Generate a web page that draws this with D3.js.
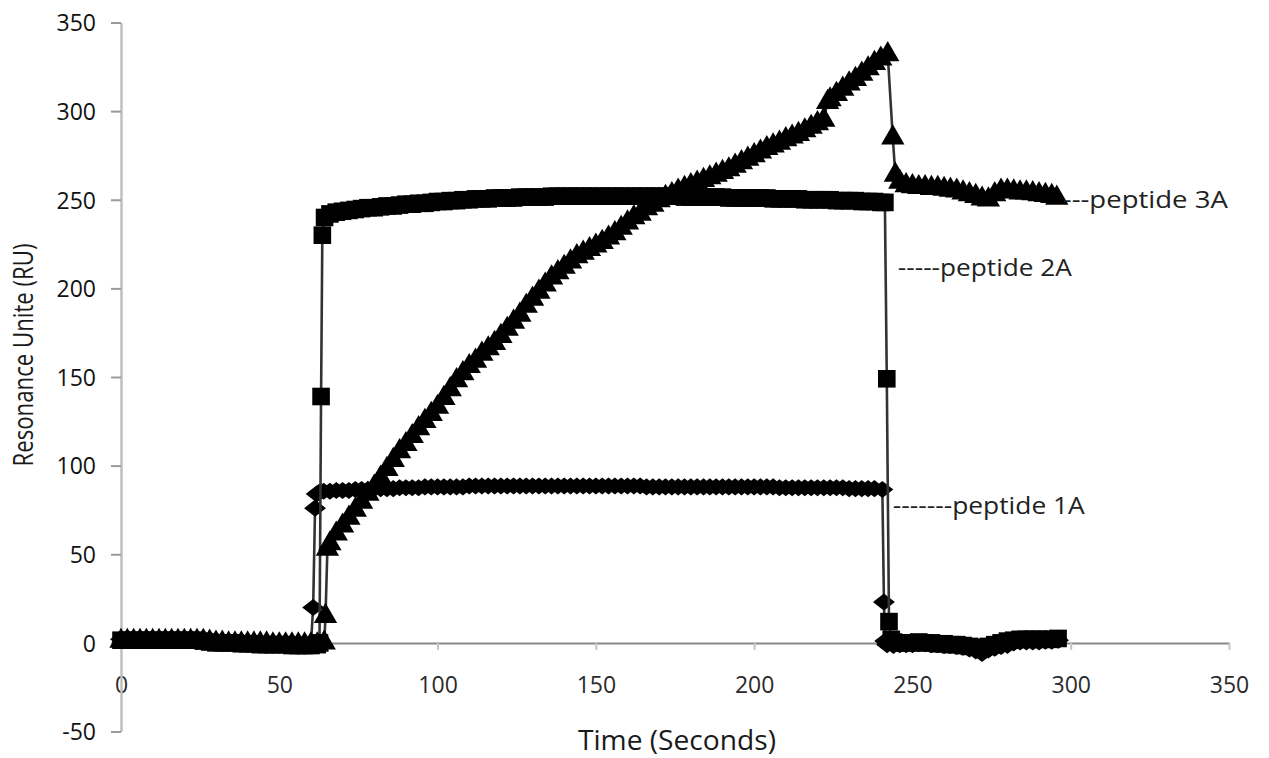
<!DOCTYPE html>
<html>
<head>
<meta charset="utf-8">
<script src="https://cdn.jsdelivr.net/npm/d3@7"></script>
<style>
  body { margin: 0; background: #fff; }
  text { font-family: "Open Sans", "DejaVu Sans", sans-serif; fill: #1a1a1a; }
</style>
</head>
<body>
<div id="chart"></div>
<script>
'use strict';

const xTicks = [0, 50, 100, 150, 200, 250, 300, 350];
const yTicks = [-50, 0, 50, 100, 150, 200, 250, 300, 350];

const seriesNames = ['peptide 1A', 'peptide 2A', 'peptide 3A'];

// [time (s), RU]
const peptide1A = [
  [0, 2], [2, 2.5], [4, 2], [6, 2], [8, 2.5], [10, 2], [12, 2], [14, 2], [16, 2], [18, 2], [20, 2], [22, 2], [24, 2],
  [26, 1.5], [28, 1], [30, 0.5], [32, 0.5], [34, 0.5], [36, 0.5], [38, 0], [40, 0], [42, 0], [44, 0], [46, 0],
  [48, -0.5], [50, -0.5], [52, -0.5], [54, -1], [56, -1], [58, -1], [60, -0.5],
  [60.7, 20], [61.3, 76], [61.8, 84], [62.6, 85], [64, 85.5], [66, 85.5], [68, 86], [70, 86], [72, 86], [74, 86.5],
  [76, 86.5], [78, 86.5], [80, 87], [82, 87], [84, 87], [86, 87], [88, 87.5], [90, 87.5], [92, 87.5], [94, 87.5],
  [96, 88], [98, 88], [100, 88], [102, 88], [104, 88], [106, 88], [108, 88], [110, 88.5], [112, 88.5], [114, 88.5],
  [116, 88.5], [118, 88.5], [120, 88.5], [122, 88.5], [124, 88.5], [126, 88.5], [128, 88.5], [130, 88.5], [132, 88.5],
  [134, 88.5], [136, 88.5], [138, 88.5], [140, 88.5], [142, 88.5], [144, 88.5], [146, 88.5], [148, 88.5], [150, 88.5],
  [152, 88.5], [154, 88.5], [156, 88.5], [158, 88.5], [160, 88.5], [162, 88.5], [164, 88.5], [166, 88], [168, 88],
  [170, 88], [172, 88], [174, 88], [176, 88], [178, 88], [180, 88], [182, 88], [184, 88], [186, 88], [188, 88],
  [190, 88], [192, 88], [194, 88], [196, 88], [198, 88], [200, 88], [202, 88], [204, 88], [206, 88], [208, 87.5],
  [210, 87.5], [212, 87.5], [214, 87.5], [216, 87.5], [218, 87.5], [220, 87.5], [222, 87.5], [224, 87.5], [226, 87.5],
  [228, 87.5], [230, 87], [232, 87], [234, 87], [236, 87], [238, 87], [240.5, 86.5],
  [241, 23], [241.4, 1], [242, -1], [244, -1.5], [246, -1], [248, -1], [250, -1], [252, -0.5], [254, -0.5], [256, -1],
  [258, -1], [260, -1.5], [262, -1.5], [264, -2], [266, -2.5], [268, -3.5], [270, -4.5], [272, -6], [274, -4],
  [276, -3], [278, -2], [280, -1.5], [282, 0], [284, 0.5], [286, 0.5], [288, 0.5], [290, 0.5], [292, 1], [294, 1], [296, 1.5]
];

const peptide2A = [
  [0, 1.5], [2, 1.5], [4, 1.5], [6, 1.5], [8, 1.5], [10, 1.5], [12, 1.5], [14, 1.5], [16, 1.5], [18, 1.5], [20, 1.5],
  [22, 1.5], [24, 1.5], [26, 1], [28, 0.5], [30, 0], [32, 0], [34, 0], [36, 0], [38, -0.5], [40, -0.5], [42, -0.5],
  [44, -1], [46, -1], [48, -1], [50, -1], [52, -1], [54, -1.5], [56, -1.5], [58, -1.5], [60, -1.5], [62, -1], [62.7, 0],
  [63.2, 139], [63.6, 230], [64.3, 240], [66, 242], [68, 243], [70, 243.5], [72, 244], [74, 244.5], [76, 245],
  [78, 245.5], [80, 245.5], [82, 246], [84, 246.5], [86, 246.5], [88, 247], [90, 247.5], [92, 247.5], [94, 248],
  [96, 248], [98, 248.5], [100, 249], [102, 249], [104, 249.5], [106, 249.5], [108, 250], [110, 250], [112, 250.5],
  [114, 250.5], [116, 250.5], [118, 251], [120, 251], [122, 251], [124, 251], [126, 251.5], [128, 251.5], [130, 251.5],
  [132, 251.5], [134, 251.5], [136, 252], [138, 252], [140, 252], [142, 252], [144, 252], [146, 252], [148, 252],
  [150, 252], [152, 252], [154, 252], [156, 252], [158, 252], [160, 252], [162, 252], [164, 252], [166, 252],
  [168, 252], [170, 252], [172, 252], [174, 252], [176, 252], [178, 251.5], [180, 251.5], [182, 251.5], [184, 251.5],
  [186, 251.5], [188, 251.5], [190, 251.5], [192, 251], [194, 251], [196, 251], [198, 251], [200, 251], [202, 251],
  [204, 251], [206, 250.5], [208, 250.5], [210, 250.5], [212, 250.5], [214, 250.5], [216, 250], [218, 250], [220, 250],
  [222, 250], [224, 250], [226, 249.5], [228, 249.5], [230, 249.5], [232, 249.5], [234, 249], [236, 249], [238, 249],
  [240, 248.5], [241.3, 248.5],
  [241.9, 149], [242.6, 12], [243.3, 2], [244, 0.5], [246, 0], [248, 0], [250, 0], [252, 0.5], [254, 0], [256, 0],
  [258, -0.5], [260, -0.5], [262, -1], [264, -1], [266, -1.5], [268, -2], [270, -2.5], [272, -3], [274, -2], [276, -1],
  [278, 0], [280, 1], [282, 1.5], [284, 2], [286, 2], [288, 2], [290, 2], [292, 2], [294, 2], [296, 2.5]
];

const peptide3A = [
  [0, 1], [2, 1], [4, 1], [6, 1], [8, 1], [10, 1], [12, 1], [14, 1], [16, 1], [18, 1], [20, 1], [22, 1], [24, 1],
  [26, 1], [28, 0.5], [30, 0], [32, 0], [34, -0.5], [36, -0.5], [38, -0.5], [40, -0.5], [42, -0.5], [44, -0.5],
  [46, -0.5], [48, -1], [50, -1], [52, -1], [54, -1], [56, -1], [58, -1], [60, -1], [62, -1], [64.2, 0],
  [64.6, 15], [65.2, 53], [66, 56], [68, 61.5], [70, 66], [72, 70.5], [74, 75], [76, 79.5], [78, 84], [80, 88],
  [82, 93], [84, 98], [86, 103], [88, 108], [90, 112], [92, 116.5], [94, 121], [96, 125], [98, 129], [100, 133],
  [102, 138], [104, 143], [106, 148], [108, 152], [110, 156], [112, 159], [114, 163], [116, 166], [118, 169],
  [120, 173], [122, 177], [124, 181], [126, 185], [128, 190], [130, 194], [132, 198], [134, 202], [136, 206],
  [138, 209], [140, 212], [142, 215], [144, 218], [146, 220], [148, 222], [150, 224], [152, 226], [154, 228.5],
  [156, 231], [158, 234], [160, 237], [162, 240], [164, 242], [166, 245], [168, 247], [170, 249.5], [172, 251.5],
  [174, 253], [176, 255], [178, 256.5], [180, 258], [182, 259.5], [184, 261], [186, 262.5], [188, 264], [190, 265.5],
  [192, 267], [194, 269], [196, 271], [198, 273], [200, 275], [202, 277], [204, 279], [206, 280.5], [208, 282],
  [210, 284], [212, 285.5], [214, 287], [216, 289], [218, 291], [220, 293], [222, 295],
  [223.2, 305], [224, 306.5], [226, 309.5], [228, 312.5], [230, 315.5], [232, 318], [234, 321], [236, 324], [238, 327],
  [240, 329.5], [242.2, 332],
  [243.8, 285], [244.6, 264], [246, 260], [248, 258], [250, 257.5], [252, 257], [254, 257], [256, 256.5], [258, 256.5],
  [260, 256], [262, 255.5], [264, 255], [266, 254], [268, 253], [270, 252], [272, 250.5], [274, 250], [276, 253],
  [278, 255], [280, 255], [282, 254.5], [284, 254], [286, 254], [288, 253.5], [290, 253], [292, 252.5], [294, 252],
  [295.6, 251]
];

// where the "---peptide" labels start, in data units
const labelAnchors = [[243.8, 77.6], [245.4, 212], [297.5, 250]];
const labelTexts = ['-------peptide 1A', '-----peptide 2A', '---peptide 3A'];
const labelWidths = [192, 174, 165];

const width = 1269;
const height = 758;

const wideDiamond = {
  draw: function (context, size) {
    const w = Math.sqrt(size) / 2;
    const h = w * 0.78;
    context.moveTo(0, -h);
    context.lineTo(w, 0);
    context.lineTo(0, h);
    context.lineTo(-w, 0);
    context.closePath();
  }
};

const series = [
  { name: seriesNames[0], data: peptide1A, symbol: wideDiamond, size: 480 },
  { name: seriesNames[1], data: peptide2A, symbol: d3.symbolSquare, size: 310 },
  { name: seriesNames[2], data: peptide3A, symbol: d3.symbolTriangle, size: 235 }
];

const xScale = d3.scaleLinear().domain([0, 350]).range([121, 1229]);
const yScale = d3.scaleLinear().domain([-50, 350]).range([731.5, 22.5]);

const svg = d3.select('#chart').append('svg')
  .attr('width', width)
  .attr('height', height);

// x axis sits on y = 0
const xAxis = d3.axisBottom(xScale)
  .tickValues(xTicks)
  .tickSize(7)
  .tickSizeOuter(0);

const xAxisElement = svg.append('g')
  .attr('transform', 'translate(0,' + yScale(0) + ')')
  .call(xAxis);

xAxisElement.select('.domain').attr('stroke', '#888').attr('stroke-width', 2);
xAxisElement.selectAll('.tick line').attr('stroke', '#c4c4c4').attr('stroke-width', 2);
xAxisElement.selectAll('.tick text')
  .attr('y', 42)
  .attr('dy', '0.36em')
  .style('font-size', '23px')
  .style('fill', '#2a2a2a');

const yAxis = d3.axisLeft(yScale)
  .tickValues(yTicks)
  .tickSize(10)
  .tickPadding(15)
  .tickFormat(function (d) { return String(d); })
  .tickSizeOuter(0);

const yAxisElement = svg.append('g')
  .attr('transform', 'translate(' + xScale(0) + ',0)')
  .call(yAxis);

yAxisElement.select('.domain').attr('stroke', '#bfbfbf').attr('stroke-width', 2.5);
yAxisElement.selectAll('.tick line').attr('stroke', '#9a9a9a').attr('stroke-width', 2);
yAxisElement.selectAll('.tick text')
  .attr('dy', '0.36em')
  .style('font-size', '23px')
  .style('fill', '#111');

const line = d3.line()
  .x(function (d) { return xScale(d[0]); })
  .y(function (d) { return yScale(d[1]); });

const chart = svg.append('g');

series.forEach(function (s) {
  const g = chart.append('g').attr('class', 'series');

  g.append('path')
    .datum(s.data)
    .attr('d', line)
    .attr('fill', 'none')
    .attr('stroke', '#333')
    .attr('stroke-width', 2.6);

  g.selectAll('path.marker')
    .data(s.data)
    .enter().append('path')
    .attr('class', 'marker')
    .attr('transform', function (d) {
      return 'translate(' + xScale(d[0]) + ',' + yScale(d[1]) + ')';
    })
    .attr('d', d3.symbol().type(s.symbol).size(s.size))
    .attr('fill', '#000');
});

chart.selectAll('text.label')
  .data(labelTexts)
  .enter().append('text')
  .attr('class', 'label')
  .attr('x', function (d, i) { return xScale(labelAnchors[i][0]); })
  .attr('y', function (d, i) { return yScale(labelAnchors[i][1]); })
  .attr('dy', '0.35em')
  .attr('textLength', function (d, i) { return labelWidths[i]; })
  .attr('lengthAdjust', 'spacingAndGlyphs')
  .style('font-size', '24px')
  .style('fill', '#222')
  .text(function (d) { return d; });

svg.append('text')
  .attr('x', 677)
  .attr('y', 740)
  .attr('dy', '0.35em')
  .attr('text-anchor', 'middle')
  .attr('textLength', 198)
  .attr('lengthAdjust', 'spacingAndGlyphs')
  .style('font-size', '28px')
  .text('Time (Seconds)');

svg.append('text')
  .attr('transform', 'translate(23,355) rotate(-90)')
  .attr('dy', '0.35em')
  .attr('text-anchor', 'middle')
  .attr('textLength', 223)
  .attr('lengthAdjust', 'spacingAndGlyphs')
  .style('font-size', '28px')
  .text('Resonance Unite (RU)');
</script>
</body>
</html>
